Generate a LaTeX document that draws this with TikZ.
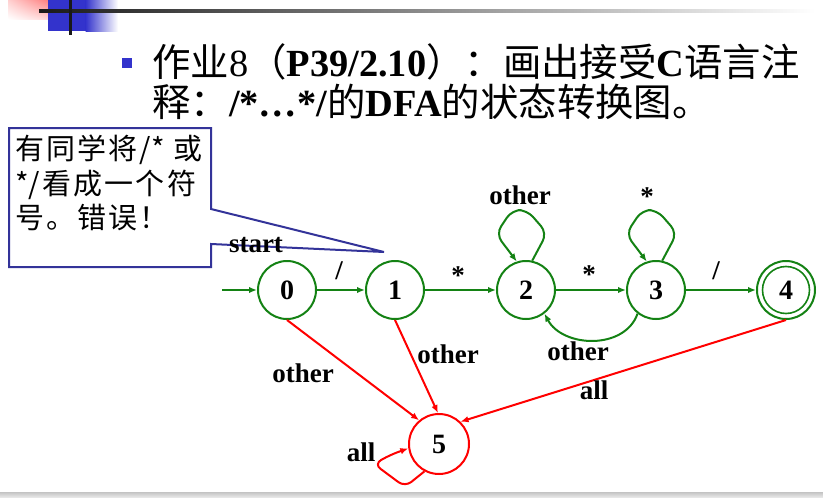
\documentclass[tikz,border=0pt]{standalone}
\usepackage{fontspec}
\setmainfont{Liberation Serif}
\newfontfamily\cjk{Noto Sans CJK SC}
\usetikzlibrary{arrows.meta,shadings}
\definecolor{dfagreen}{RGB}{20,130,20}
\definecolor{dfared}{RGB}{255,0,0}
\definecolor{calloutblue}{RGB}{51,51,153}
\definecolor{topblue}{RGB}{51,51,204}
\definecolor{pinkred}{RGB}{255,100,100}
\newcommand\lsp{\hspace{2.2pt}}
\begin{document}
\begin{tikzpicture}[x=1pt,y=-1pt,
  state/.style={circle, draw=dfagreen, line width=2pt, minimum size=58pt, inner sep=0pt,
    font=\fontsize{28}{28}\selectfont\bfseries},
  deadstate/.style={state, draw=dfared, minimum size=60pt},
  lab/.style={inner sep=0pt, font=\fontsize{27}{27}\selectfont\bfseries},
  gedge/.style={draw=dfagreen, line width=2pt, -{Latex[length=8pt,width=6.5pt]}},
  redge/.style={draw=dfared, line width=2pt, -{Latex[length=8pt,width=6.5pt]}},
  titletext/.style={anchor=base west, inner sep=0pt, font=\fontsize{38.4}{40}\selectfont},
  callouttext/.style={anchor=base west, inner sep=0pt, font=\fontsize{29}{29}\selectfont\cjk},
]
\useasboundingbox (0,0) rectangle (823,498);
% top-left decoration
\shade[upper right=pinkred, upper left=pinkred!30, lower right=pinkred!35, lower left=white] (8,0) rectangle (62,19);
\fill[topblue] (48,0) rectangle (86,31);
\shade[left color=topblue, right color=white] (85.5,0) rectangle (118,31);
\shade[left color=black!90, right color=white] (39,9.5) rectangle (815,12.5);
\fill[black!90] (68.5,0) rectangle (71.5,35);
% bottom band
\shade[top color=black!22, bottom color=black!7] (0,492.5) rectangle (823,498);
% title
\fill[topblue] (122,58) rectangle (132,68);
\node[titletext] (t1) at (152,76) {{\cjk 作业}8{\cjk （}\textbf{P39/2.10}{\cjk ）：画出接受}\textbf{C}{\cjk 语言注}};
\node[titletext] (t2) at (152,116) {{\cjk 释：}\textbf{/*…*/}{\cjk 的}\textbf{DFA}{\cjk 的状态转换图。}};
% callout
\draw[calloutblue, line width=2pt, fill=white, line join=miter]
  (9,128) -- (211,128) -- (211,209) -- (384,252) -- (211,244) -- (211,267) -- (9,267) -- cycle;
\node[callouttext] (c1) at (15,159) {有\lsp 同\lsp 学\lsp 将\lsp /*\lsp\ 或};
\node[callouttext] (c2) at (15,194) {*/\lsp 看\lsp 成\lsp 一\lsp 个\lsp 符};
\node[callouttext] (c3) at (15,228) {号\lsp 。\lsp 错\lsp 误\lsp ！};
% states
\node[state] (n0) at (287,290) {0};
\node[state] (n1) at (395,290) {1};
\node[state] (n2) at (526,290) {2};
\node[state] (n3) at (656,290) {3};
\node[state] (n4) at (786,290) {4};
\draw[dfagreen, line width=1.6pt] (n4.center) circle (23.5pt);
\node[deadstate] (n5) at (439,444) {5};
% start
\coordinate (s) at (222,290);
\draw[gedge] (s) -- (n0);
\node[lab] (lstart) at (256,245) {start};
% transitions
\draw[gedge] (n0) -- (n1);
\node[lab] (l01) at (339,271) {/};
\draw[gedge] (n1) -- (n2);
\node[lab] (l12) at (458,276) {*};
\draw[gedge] (n2) -- (n3);
\node[lab] (l23) at (589,275) {*};
\draw[gedge] (n3) -- (n4);
\node[lab] (l34) at (716,271) {/};
% loops
\begin{scope}[shift={(526,290)}]
\draw[gedge, rounded corners=9pt] (n2.78) -- (21,-57) -- (1,-80) -- (-14,-80) -- (-30,-56) -- (n2.108);
\end{scope}
\node[lab] (l22) at (520,195) {other};
\begin{scope}[shift={(656,290)}]
\draw[gedge, rounded corners=9pt] (n3.78) -- (21,-57) -- (1,-80) -- (-14,-80) -- (-30,-56) -- (n3.108);
\end{scope}
\node[lab] (l33) at (647,197) {*};
\draw[gedge] (n3.-128) .. controls (625,350) and (563,348) .. (n2.-52);
\node[lab] (l32) at (578,351) {other};
% dead transitions
\draw[redge] (n0.south) -- (n5.130);
\node[lab] (l05) at (303,373) {other};
\draw[redge] (n1.south) -- (n5.92);
\node[lab] (l15) at (448,354) {other};
\draw[redge] (n4.south) -- (n5.46);
\node[lab] (l45) at (594,390) {all};
\draw[redge, rounded corners=8pt] (n5.-118) -- (405,487) -- (374,464) -- (390,455) -- (n5.188);
\node[lab] (l55) at (361,452) {all};
\end{tikzpicture}
\end{document}
